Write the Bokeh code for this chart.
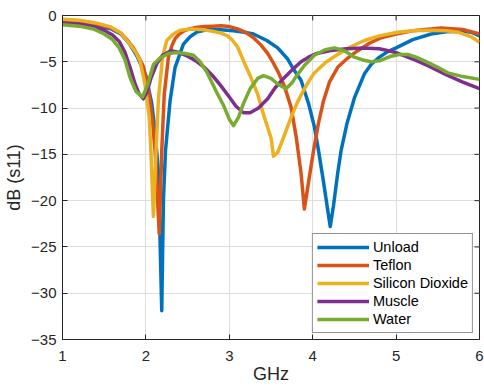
from bokeh.plotting import figure
from bokeh.models import Range1d, FixedTicker, Legend, LegendItem
from bokeh.embed import file_html
from bokeh.resources import INLINE

# ---- data ----
unload_f = [1.0, 1.2, 1.4, 1.57, 1.7, 1.8, 1.9, 2.0, 2.07, 2.11, 2.15, 2.19, 2.21, 2.235,
            2.29, 2.35, 2.45, 2.53, 2.61, 2.73, 2.86, 3.05, 3.18, 3.29, 3.45, 3.58, 3.7, 3.77,
            3.86, 3.95, 4.02, 4.07, 4.13, 4.18, 4.21, 4.25, 4.3, 4.34, 4.41, 4.5, 4.62, 4.7,
            4.8, 4.9, 5.0, 5.2, 5.42, 5.6, 5.8, 5.9, 6.0]
unload_db = [-0.7, -0.85, -1.1, -1.4, -2.0, -3.0, -4.5, -6.5, -9.5, -12.5, -17.0, -31.9, -20.0, -14.6,
             -9.2, -5.6, -3.1, -2.3, -1.8, -1.55, -1.5, -1.65, -1.8, -2.0, -2.7, -3.5, -4.7, -5.8,
             -7.0, -9.5, -12.0, -14.6, -18.0, -21.0, -22.8, -20.5, -17.0, -14.6, -11.7, -8.9, -6.3, -5.3,
             -4.5, -3.9, -3.5, -2.6, -2.0, -1.75, -1.7, -1.8, -2.2]

teflon_f = [1.0, 1.2, 1.4, 1.57, 1.7, 1.78, 1.85, 1.92, 1.97, 2.03, 2.08, 2.11, 2.16, 2.19,
            2.22, 2.27, 2.31, 2.35, 2.4, 2.45, 2.52, 2.6, 2.7, 2.8, 2.9, 3.0, 3.1, 3.2,
            3.29, 3.38, 3.46, 3.52, 3.58, 3.66, 3.74, 3.8, 3.86, 3.9, 3.95, 4.01, 4.07, 4.13,
            4.2, 4.3, 4.42, 4.54, 4.68, 4.82, 5.0, 5.2, 5.54, 5.8, 6.0]
teflon_db = [-0.5, -0.6, -0.9, -1.3, -1.9, -2.7, -3.5, -4.6, -5.5, -8.0, -11.5, -14.6, -23.6, -14.6,
             -8.5, -4.5, -3.3, -2.5, -2.0, -1.7, -1.45, -1.3, -1.2, -1.15, -1.1, -1.2, -1.45, -1.85,
             -2.4, -3.2, -4.1, -5.0, -6.0, -7.6, -9.9, -13.0, -17.0, -20.9, -18.0, -14.6, -11.6, -9.2,
             -7.2, -5.6, -4.6, -3.8, -3.0, -2.4, -2.0, -1.65, -1.35, -1.5, -2.0]

sio2_f = [1.0, 1.2, 1.4, 1.57, 1.7, 1.8, 1.88, 1.93, 1.99, 2.04, 2.06, 2.09, 2.12, 2.15,
          2.2, 2.25, 2.33, 2.41, 2.55, 2.65, 2.8, 2.9, 2.98, 3.04, 3.1, 3.17, 3.25, 3.34,
          3.42, 3.5, 3.53, 3.58, 3.65, 3.74, 3.82, 3.92, 4.01, 4.15, 4.3, 4.45, 4.62, 4.8,
          5.02, 5.2, 5.42, 5.6, 5.74, 5.9, 6.0]
sio2_db = [-0.4, -0.5, -0.8, -1.2, -1.9, -3.0, -4.0, -4.9, -7.5, -11.0, -14.6, -21.7, -15.0, -9.0,
           -4.5, -2.7, -2.0, -1.6, -1.45, -1.5, -1.7, -1.9, -2.2, -2.7, -3.4, -4.9, -6.5, -8.5,
           -11.0, -13.2, -15.2, -14.8, -13.2, -11.0, -9.3, -7.6, -6.3, -5.1, -4.2, -3.4, -2.7, -2.2,
           -1.8, -1.65, -1.6, -1.65, -1.8, -2.3, -2.9]

muscle_f = [1.0, 1.2, 1.37, 1.5, 1.6, 1.68, 1.75, 1.81, 1.87, 1.92, 1.97, 2.01, 2.06, 2.13,
            2.2, 2.3, 2.4, 2.5, 2.6, 2.7, 2.8, 2.9, 3.0, 3.08, 3.17, 3.25, 3.35, 3.46,
            3.55, 3.65, 3.75, 3.86, 3.95, 4.05, 4.2, 4.4, 4.6, 4.8, 5.0, 5.2, 5.4, 5.6,
            5.8, 6.0]
muscle_db = [-0.8, -0.95, -1.2, -1.6, -2.1, -2.8, -4.0, -5.6, -7.4, -8.5, -9.0, -8.3, -6.8, -5.2,
             -4.3, -3.8, -4.0, -4.4, -4.9, -5.6, -6.5, -7.6, -8.8, -9.8, -10.5, -10.5, -10.0, -9.0,
             -7.8, -6.8, -5.9, -5.0, -4.5, -4.1, -3.8, -3.6, -3.5, -3.6, -4.0, -4.7, -5.5, -6.4,
             -7.2, -7.9]

water_f = [1.0, 1.2, 1.37, 1.5, 1.6, 1.68, 1.75, 1.81, 1.88, 1.96, 2.02, 2.09, 2.17, 2.27,
           2.37, 2.47, 2.57, 2.65, 2.73, 2.8, 2.86, 2.93, 3.0, 3.05, 3.11, 3.17, 3.25, 3.34,
           3.41, 3.5, 3.58, 3.68, 3.75, 3.8, 3.9, 4.02, 4.15, 4.26, 4.38, 4.5, 4.6, 4.7,
           4.8, 4.94, 5.05, 5.14, 5.24, 5.34, 5.5, 5.62, 5.8, 6.0]
water_db = [-1.0, -1.15, -1.45, -2.0, -2.6, -3.5, -4.8, -6.7, -8.2, -8.8, -7.5, -5.3, -4.6, -4.1,
            -4.0, -4.1, -4.3, -5.0, -6.1, -7.4, -8.5, -9.7, -11.2, -11.9, -11.0, -9.5, -7.9, -6.8,
            -6.5, -6.8, -7.4, -7.9, -7.3, -6.6, -5.4, -4.3, -3.7, -3.5, -3.8, -4.5, -4.8, -5.0,
            -4.9, -4.4, -4.2, -4.2, -4.5, -4.9, -5.6, -6.2, -6.6, -6.9]

series_names = ["Unload", "Teflon", "Silicon Dioxide", "Muscle", "Water"]
series_colors = ["#0072BD", "#D95319", "#EDB120", "#7E2F8E", "#77AC30"]
x_ticks = [1, 2, 3, 4, 5, 6]
y_ticks = [0, -5, -10, -15, -20, -25, -30, -35]
x_label = "GHz"
y_label = "dB (s11)"

FONT = "Liberation Sans"
AX = "#262626"

x_lo, x_hi = 1, 6
y_lo, y_hi = -35, 0

p = figure(width=484, height=388, x_range=Range1d(x_lo, x_hi), y_range=Range1d(y_lo, y_hi),
           output_backend="svg", toolbar_location=None,
           min_border_left=62, min_border_right=5, min_border_top=15, min_border_bottom=49)
p.background_fill_color = "white"
p.border_fill_color = "white"
p.outline_line_color = AX
p.outline_line_width = 1

for ax in (p.xaxis[0], p.yaxis[0]):
    ax.major_tick_in = 5
    ax.major_tick_out = 0
    ax.minor_tick_line_color = None
    ax.axis_line_color = AX
    ax.major_tick_line_color = AX
    ax.major_label_text_color = AX
    ax.major_label_text_font = FONT
    ax.major_label_text_font_size = "15px"
    ax.axis_label_text_font = FONT
    ax.axis_label_text_font_size = "18px"
    ax.axis_label_text_font_style = "normal"
    ax.axis_label_text_color = AX

p.xaxis.ticker = FixedTicker(ticks=x_ticks)
p.yaxis.ticker = FixedTicker(ticks=y_ticks)
p.xaxis.axis_label = x_label
p.yaxis.axis_label = y_label
p.xaxis.major_label_standoff = 11
p.yaxis.major_label_standoff = 6
p.xaxis.axis_label_standoff = 0
p.yaxis.axis_label_standoff = 4

p.grid.grid_line_color = "#dedede"
p.grid.grid_line_width = 1
p.xgrid.ticker = FixedTicker(ticks=x_ticks)
p.ygrid.ticker = FixedTicker(ticks=y_ticks)

data = [(unload_f, unload_db), (teflon_f, teflon_db), (sio2_f, sio2_db),
        (muscle_f, muscle_db), (water_f, water_db)]
items = []
for (f, d), name, c in zip(data, series_names, series_colors):
    r = p.line(f, d, line_color=c, line_width=3.5, line_join="round")
    items.append(LegendItem(label=name, renderers=[r]))

# inward tick marks on the top and right edges (box on), taken from the tick lists
tick_dx = (x_hi - x_lo) * 5 / 417.0
tick_dy = (y_hi - y_lo) * 5 / 324.0
p.segment(x0=x_ticks, y0=[y_hi] * len(x_ticks), x1=x_ticks,
          y1=[y_hi - tick_dy] * len(x_ticks), line_color=AX, line_width=1)
p.segment(x0=[x_hi] * len(y_ticks), y0=y_ticks, x1=[x_hi - tick_dx] * len(y_ticks),
          y1=y_ticks, line_color=AX, line_width=1)

legend = Legend(items=items, location="bottom_right")
legend.label_text_font = FONT
legend.label_text_font_size = "14.5px"
legend.label_text_color = "#000000"
legend.glyph_width = 52
legend.glyph_height = 18
legend.label_height = 18
legend.spacing = 0
legend.padding = 4
legend.margin = 6
legend.label_standoff = 4
legend.border_line_color = AX
legend.border_line_width = 1
legend.background_fill_color = "white"
legend.background_fill_alpha = 1
p.add_layout(legend)

open("out.html", "w").write(file_html(p, INLINE))
